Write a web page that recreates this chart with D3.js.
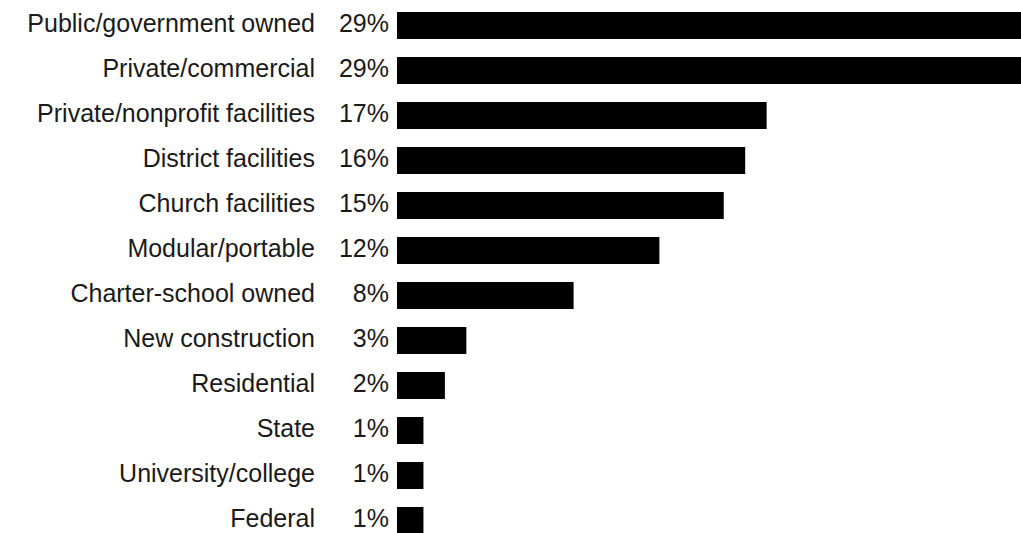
<!DOCTYPE html>
<html>
<head>
<meta charset="utf-8">
<script src="https://cdn.jsdelivr.net/npm/d3@7"></script>
<style>
  body { margin: 0; background: #fff; overflow: hidden; }
  text { font-family: "Liberation Sans", Arial, Helvetica, sans-serif; fill: #1a1a1a; }
</style>
</head>
<body>
<svg id="chart"></svg>
<script>
// Dati
const categories = [
  "Public/government owned", "Private/commercial", "Private/nonprofit facilities",
  "District facilities", "Church facilities", "Modular/portable",
  "Charter-school owned", "New construction", "Residential",
  "State", "University/college", "Federal"
];
const values = [29, 29, 17, 16, 15, 12, 8, 3, 2, 1, 1, 1];

const width = 1021, height = 533;
const barLeft = 397;   // bordo sinistro delle barre
const stub = 5;        // piccola base delle barre anche a 0

const svg = d3.select("#chart")
    .attr("width", width)
    .attr("height", height);

// Scala orizzontale per le lunghezze delle barre
const x = d3.scaleLinear()
    .domain([0, 29])
    .range([barLeft + stub, barLeft + stub + 21.45 * 29]);

// Scala verticale per le righe
const y = d3.scaleBand()
    .domain(categories)
    .range([3, 3 + 45 * categories.length])
    .paddingInner(0.4)
    .paddingOuter(0.2);

const rows = svg.append("g")
  .selectAll("g")
  .data(categories.map((c, i) => ({ cat: c, val: values[i] })))
  .join("g")
    .attr("transform", d => `translate(0,${y(d.cat)})`);

rows.append("rect")
    .attr("x", barLeft)
    .attr("y", 0)
    .attr("width", d => x(d.val) - barLeft)
    .attr("height", y.bandwidth())
    .attr("fill", "#000");

// Etichette delle categorie
rows.append("text")
    .attr("x", 315)
    .attr("y", 20)
    .attr("text-anchor", "end")
    .attr("font-size", 25)
    .text(d => d.cat);

// Etichette delle percentuali
rows.append("text")
    .attr("x", 389)
    .attr("y", 20)
    .attr("text-anchor", "end")
    .attr("font-size", 25)
    .text(d => d.val + "%");
</script>
</body>
</html>
